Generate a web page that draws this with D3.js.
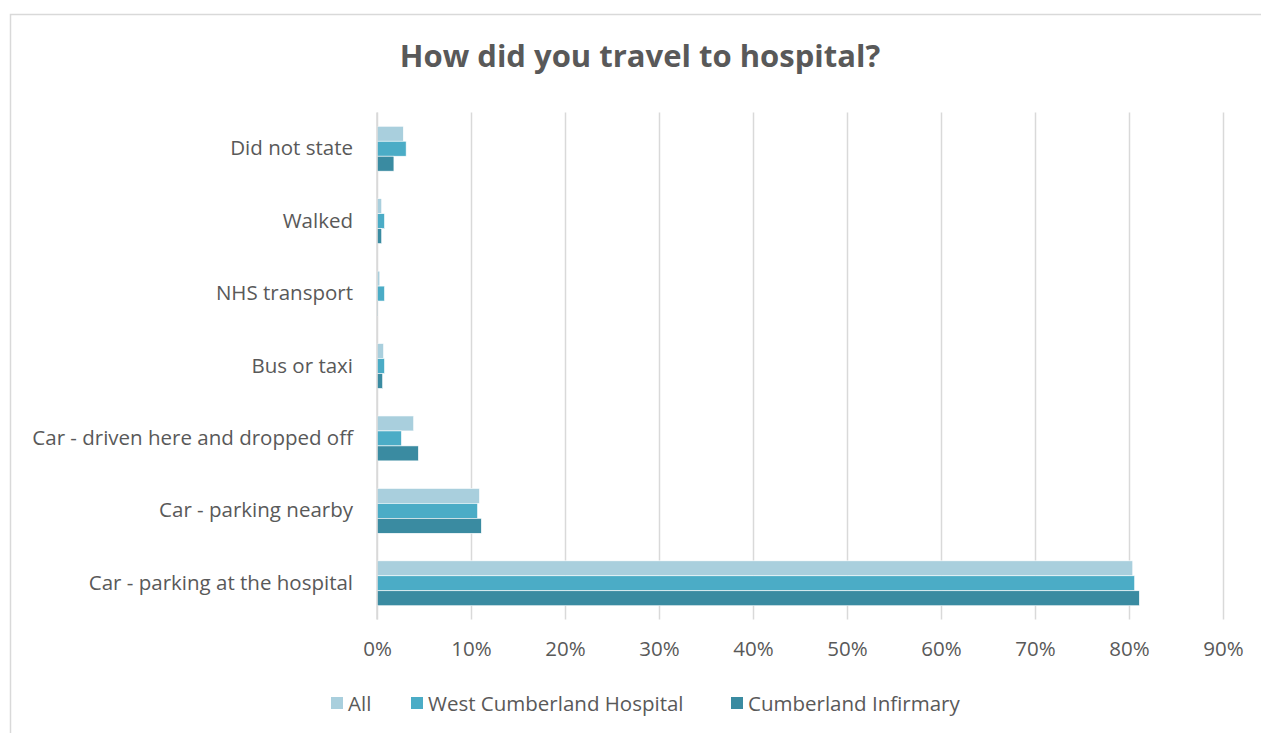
<!DOCTYPE html>
<html>
<head>
<meta charset="utf-8">
<script src="https://cdn.jsdelivr.net/npm/d3@7"></script>
<style>
  html, body { margin: 0; padding: 0; background: #fff; }
  svg { display: block; }
  text { font-family: "Open Sans", "Liberation Sans", sans-serif; fill: #595959; }
</style>
</head>
<body>
<svg id="chart" width="1261" height="733"></svg>
<script>
const categories = [
  "Did not state",
  "Walked",
  "NHS transport",
  "Bus or taxi",
  "Car - driven here and dropped off",
  "Car - parking nearby",
  "Car - parking at the hospital"
];
const seriesNames = ["All", "West Cumberland Hospital", "Cumberland Infirmary"];
const seriesColors = ["#A9CFDD", "#4BACC6", "#3A8BA1"];
const allValues  = [2.8, 0.5, 0.3, 0.7, 3.9, 10.9, 80.4];
const westValues = [3.1, 0.8, 0.8, 0.8, 2.6, 10.7, 80.6];
const cumbValues = [1.8, 0.5, 0.1, 0.6, 4.4, 11.1, 81.1];
const tickValues = [0, 10, 20, 30, 40, 50, 60, 70, 80, 90];
const title = "How did you travel to hospital?";

const seriesValues = [allValues, westValues, cumbValues];
const rows = categories.map((c, i) => ({
  cat: c,
  vals: seriesNames.map((s, j) => ({ series: s, idx: j, value: seriesValues[j][i] }))
}));

const svg = d3.select("#chart");

// chart frame
svg.append("rect")
  .attr("x", 10.5).attr("y", 14.5)
  .attr("width", 1262).attr("height", 730)
  .attr("fill", "none").attr("stroke", "#d9d9d9").attr("stroke-width", 1.5);

const plot = { left: 377, right: 1223, top: 112.5, bottom: 619.5 };

const x = d3.scaleLinear().domain([0, 90]).range([plot.left, plot.right]);
const y = d3.scaleBand().domain(categories).range([plot.top, plot.bottom]).paddingInner(0.38).paddingOuter(0.19);
const ySub = d3.scaleBand().domain(seriesNames).range([0, y.bandwidth()]);

// gridlines
const grid = svg.append("g").attr("transform", `translate(0,${plot.bottom})`)
  .call(d3.axisBottom(x).tickValues(tickValues).tickSize(-(plot.bottom - plot.top)).tickFormat(""));
grid.select(".domain").remove();
grid.selectAll(".tick line").attr("stroke", "#d9d9d9").attr("stroke-width", 1.5);

// x tick labels
const xAxis = svg.append("g").attr("transform", `translate(0,${plot.bottom})`)
  .call(d3.axisBottom(x).tickValues(tickValues).tickSize(0).tickPadding(22).tickFormat(d => d + "%"));
xAxis.select(".domain").remove();
xAxis.selectAll("text").style("font-size", "20.5px").attr("fill", "#595959")
  .style("font-family", "\"Open Sans\", sans-serif");

// bars
const groups = svg.append("g").selectAll("g").data(rows).join("g")
  .attr("transform", d => `translate(0,${y(d.cat)})`);
groups.selectAll("rect").data(d => d.vals).join("rect")
  .attr("x", x(0))
  .attr("y", d => ySub(d.series))
  .attr("width", d => x(d.value) - x(0))
  .attr("height", ySub.bandwidth())
  .attr("fill", d => seriesColors[d.idx])
  .attr("stroke", "#ffffff").attr("stroke-width", 0.6);

// y axis labels
const yAxis = svg.append("g").attr("transform", `translate(${plot.left},0)`)
  .call(d3.axisLeft(y).tickSize(0).tickPadding(24));
yAxis.select(".domain").remove();
yAxis.selectAll("text").style("font-size", "20.5px").attr("fill", "#595959")
  .style("font-family", "\"Open Sans\", sans-serif");

// vertical axis line
svg.append("line")
  .attr("x1", x(0)).attr("x2", x(0))
  .attr("y1", plot.top).attr("y2", plot.bottom)
  .attr("stroke", "#d9d9d9").attr("stroke-width", 1.5);

// title
svg.append("text")
  .attr("x", 640).attr("y", 67)
  .attr("text-anchor", "middle")
  .style("font-size", "31px").style("font-weight", "bold")
  .text(title);

// legend
const legendX = [331, 411, 731];
const legend = svg.append("g").selectAll("g").data(seriesNames).join("g")
  .attr("transform", (d, i) => `translate(${legendX[i]},697)`);
legend.append("rect").attr("width", 12).attr("height", 12)
  .attr("fill", (d, i) => seriesColors[i]);
legend.append("text").attr("x", 17).attr("y", 13.5)
  .style("font-size", "20.5px").text(d => d);
</script>
</body>
</html>
